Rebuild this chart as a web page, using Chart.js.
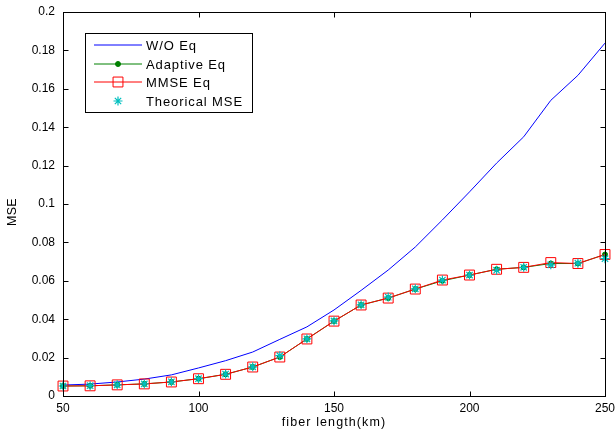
<!DOCTYPE html>
<html><head><meta charset="utf-8">
<script src="https://cdn.jsdelivr.net/npm/chart.js@4/dist/chart.umd.min.js"></script>
<style>html,body{margin:0;padding:0;background:#fff}#wrap{width:616px;height:434px}</style>
</head><body><div id="wrap"><canvas id="c" width="616" height="434"></canvas></div>
<script>
const fiberLength = [50,60,70,80,90,100,110,120,130,140,150,160,170,180,190,200,210,220,230,240,250];
const woEq = [0.0057,0.0062,0.0073,0.0088,0.0110,0.0146,0.0184,0.0229,0.0295,0.0360,0.0448,0.0550,0.0656,0.0776,0.0917,0.1063,0.1213,0.1350,0.1540,0.1670,0.1838];
const adaptiveEq = [0.0052,0.0053,0.0058,0.0063,0.0073,0.0090,0.0113,0.0151,0.0203,0.0297,0.0390,0.0474,0.0510,0.0557,0.0600,0.0630,0.0660,0.0670,0.0690,0.0690,0.0737];
const mmseEq = [0.0052,0.0053,0.0058,0.0063,0.0073,0.0090,0.0113,0.0151,0.0203,0.0297,0.0390,0.0474,0.0510,0.0557,0.0604,0.0630,0.0660,0.0670,0.0695,0.0690,0.0737];
const theoreticalMse = [0.0052,0.0054,0.0058,0.0063,0.0074,0.0090,0.0114,0.0152,0.0210,0.0298,0.0391,0.0475,0.0515,0.0558,0.0604,0.0630,0.0655,0.0670,0.0683,0.0692,0.0715];
const xTicks = [50,100,150,200,250];
const yTicks = [0,0.02,0.04,0.06,0.08,0.1,0.12,0.14,0.16,0.18,0.2];
const seriesNames = ['W/O Eq','Adaptive Eq','MMSE Eq','Theorical MSE'];
const xTitle = 'fiber length(km)';
const yTitle = 'MSE';

const FONT = '"Liberation Sans", Arial, Helvetica, sans-serif';
const pts = arr => arr.map((v,i)=>({x:fiberLength[i], y:v}));

const boxAndTicks = {
  id:'boxAndTicks',
  afterDatasetsDraw(chart){
    const {ctx, chartArea:a, scales:{x,y}} = chart;
    ctx.save();
    ctx.strokeStyle='#000'; ctx.lineWidth=1;
    ctx.beginPath();
    const L=Math.round(a.left)+0.5, R=Math.round(a.right)+0.5, T=Math.round(a.top)+0.5, B=Math.round(a.bottom)+0.5;
    const tl=5;
    xTicks.forEach(v=>{ const p=Math.round(x.getPixelForValue(v))+0.5; ctx.moveTo(p,B); ctx.lineTo(p,B-tl); ctx.moveTo(p,T); ctx.lineTo(p,T+tl); });
    yTicks.forEach(v=>{ const p=Math.round(y.getPixelForValue(v))+0.5; ctx.moveTo(L,p); ctx.lineTo(L+tl,p); ctx.moveTo(R,p); ctx.lineTo(R-tl,p); });
    ctx.stroke();
    ctx.strokeRect(L,T,R-L,B-T);
    ctx.restore();
  },
  afterDraw(chart){
    const {ctx, chartArea:a} = chart;
    ctx.save();
    // axis titles
    ctx.fillStyle='#000';
    ctx.font='12.5px '+FONT;
    try{ ctx.letterSpacing='1.1px'; }catch(e){}
    ctx.textAlign='center'; ctx.textBaseline='middle';
    ctx.fillText(xTitle,(a.left+a.right)/2,423);
    try{ ctx.letterSpacing='0.3px'; }catch(e){}
    ctx.save(); ctx.translate(13,(a.top+a.bottom)/2+8); ctx.rotate(-Math.PI/2);
    ctx.fillText(yTitle,0,0); ctx.restore();
    // legend
    const bx=85.5, by=33.5, bw=167, bh=79;
    ctx.fillStyle='#fff'; ctx.fillRect(bx,by,bw,bh);
    ctx.strokeStyle='#000'; ctx.lineWidth=1; ctx.strokeRect(bx,by,bw,bh);
    const rows=[45,64,82,101];
    const x0=94, x1=142, xm=118, tx=146;
    ctx.font='13px '+FONT; ctx.textBaseline='middle'; ctx.textAlign='left';
    try{ ctx.letterSpacing='0.9px'; }catch(e){}
    chart.data.datasets.forEach((ds,i)=>{
      const yy=rows[i];
      if(ds.showLine!==false){
        ctx.strokeStyle=ds.borderColor; ctx.lineWidth=1;
        ctx.beginPath(); ctx.moveTo(x0,yy); ctx.lineTo(x1,yy); ctx.stroke();
      }
      if(ds.pointRadius>0){
        ctx.fillStyle=ds.pointBackgroundColor; ctx.strokeStyle=ds.pointBorderColor;
        ctx.lineWidth=ds.pointBorderWidth||1;
        Chart.helpers.drawPoint(ctx,{pointStyle:ds.pointStyle,rotation:0,radius:ds.pointRadius,borderWidth:ds.pointBorderWidth||1},xm,yy);
      }
      ctx.fillStyle='#000';
      ctx.fillText(seriesNames[i],tx,rows[i]+1);
    });
    ctx.restore();
  }
};

new Chart(document.getElementById('c'),{
  type:'scatter',
  data:{datasets:[
    {label:seriesNames[0],data:pts(woEq),showLine:true,borderColor:'#0000ff',borderWidth:1,pointRadius:0,pointStyle:'circle',tension:0,order:4,clip:false},
    {label:seriesNames[1],data:pts(adaptiveEq),showLine:true,borderColor:'#008000',borderWidth:1,pointRadius:2.5,pointStyle:'circle',pointBackgroundColor:'#008000',pointBorderColor:'#008000',pointBorderWidth:1,tension:0,order:3,clip:false},
    {label:seriesNames[2],data:pts(mmseEq),showLine:true,borderColor:'#ff0000',borderWidth:1,pointRadius:7,pointStyle:'rect',pointBackgroundColor:'rgba(0,0,0,0)',pointBorderColor:'#ff0000',pointBorderWidth:1,tension:0,order:2,clip:false},
    {label:seriesNames[3],data:pts(theoreticalMse),showLine:false,borderColor:'#00bfbf',pointRadius:4.5,pointStyle:'star',pointBackgroundColor:'#00bfbf',pointBorderColor:'#00bfbf',pointBorderWidth:1.2,order:1,clip:false}
  ]},
  options:{
    responsive:false, animation:false, devicePixelRatio:1,
    layout:{padding:{top:12,right:11,left:0,bottom:0}},
    plugins:{legend:{display:false},tooltip:{enabled:false}},
    scales:{
      x:{type:'linear',min:50,max:250,
        afterBuildTicks:s=>{s.ticks=xTicks.map(v=>({value:v}));},
        afterFit:s=>{s.height=38;s.paddingLeft=0;s.paddingRight=0;},
        grid:{display:false,drawTicks:false},border:{display:false},
        ticks:{padding:5,color:'#000',font:{family:FONT,size:12},maxRotation:0,callback:v=>String(v)},
        title:{display:false}
      },
      y:{type:'linear',min:0,max:0.2,
        afterBuildTicks:s=>{s.ticks=yTicks.map(v=>({value:v}));},
        afterFit:s=>{s.width=63;s.paddingTop=0;s.paddingBottom=0;},
        grid:{display:false,drawTicks:false},border:{display:false},
        ticks:{padding:8,color:'#000',font:{family:FONT,size:12},callback:v=>String(Number(v.toFixed(2)))},
        title:{display:false}
      }
    }
  },
  plugins:[boxAndTicks]
});
</script></body></html>
